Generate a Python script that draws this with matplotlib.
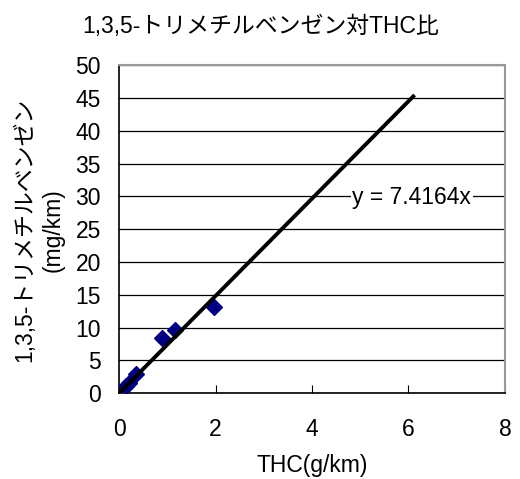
import numpy as np
import matplotlib
matplotlib.use('Agg')
import matplotlib.pyplot as plt

plt.rcParams['font.family'] = ['Liberation Sans', 'Noto Sans CJK JP', 'DejaVu Sans']

# measured points (THC g/km, 1,3,5-trimethylbenzene mg/km)
thc = [0.15, 0.20, 0.36, 0.90, 1.15, 1.96]
tmb = [1.1, 1.6, 3.0, 8.4, 9.6, 13.2]
slope = 7.4164
fit_end = 6.1

x_ticks = [0, 2, 4, 6, 8]
y_ticks = [0, 5, 10, 15, 20, 25, 30, 35, 40, 45, 50]

fs = 16.5

fig = plt.figure(figsize=(5.2, 4.79), dpi=100)
ax = fig.add_axes([0.229, 0.179, 0.742, 0.685])

ax.set_xlim(0, 8)
ax.set_ylim(0, 50)
ax.set_xticks(x_ticks)
ax.set_yticks(y_ticks)
ax.yaxis.grid(True, color='black', linewidth=0.9)
ax.set_axisbelow(True)

for s in ['top', 'right']:
    ax.spines[s].set_color('#999999')
    ax.spines[s].set_linewidth(1.5)
for s in ['left', 'bottom']:
    ax.spines[s].set_color('black')
    ax.spines[s].set_linewidth(1.2)

ax.tick_params(axis='x', direction='in', length=6, labelsize=fs, pad=18)
ax.tick_params(axis='y', direction='in', length=0, labelsize=fs, pad=13)

ax.scatter(thc, tmb, marker='D', s=65, color='#000080', zorder=3)
xf = np.array([0, fit_end])
ax.plot(xf, slope * xf, color='black', linewidth=2.8, zorder=4)

ax.text(6.07, 29.9, 'y = 7.4164x', fontsize=fs, ha='center', va='center',
        bbox=dict(facecolor='white', edgecolor='none', pad=1), zorder=5)

fig.text(0.502, 0.944, '1,3,5-トリメチルベンゼン対THC比', fontsize=fs,
         ha='center', va='center')
fig.text(0.601, 0.029, 'THC(g/km)', fontsize=fs, ha='center', va='center')
fig.text(0.048, 0.52, '1,3,5-トリメチルベンゼン', fontsize=fs, rotation=90,
         ha='center', va='center')
fig.text(0.102, 0.52, '(mg/km)', fontsize=fs, rotation=90,
         ha='center', va='center')

fig.savefig('out.png', dpi=100)
